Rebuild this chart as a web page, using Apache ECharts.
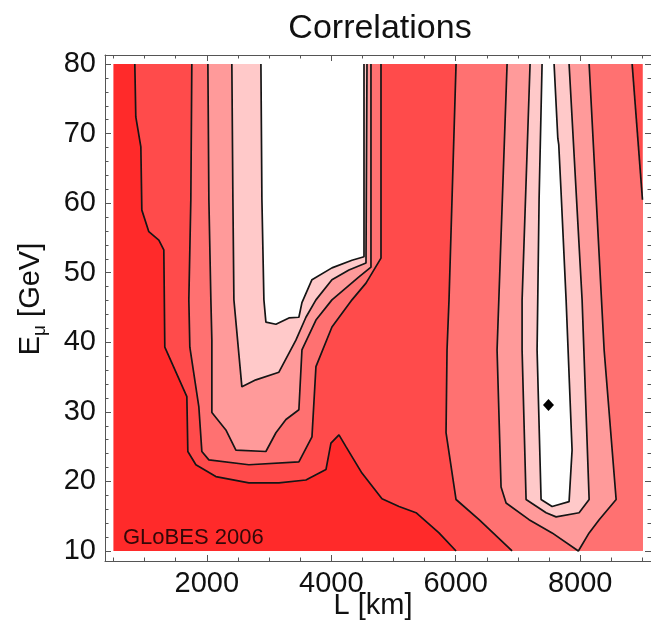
<!DOCTYPE html>
<html><head><meta charset="utf-8">
<script src="https://cdn.jsdelivr.net/npm/echarts@6/dist/echarts.min.js"></script>
<style>html,body{margin:0;padding:0;background:#fff}#c{width:651px;height:628px}</style>
</head><body><div id="c"></div>
<script>
// ---- tick values ----
const xMajor = [2000, 4000, 6000, 8000];
const xMinor = [500, 1000, 1500, 2500, 3000, 3500, 4500, 5000, 5500, 6500, 7000, 7500, 8500, 9000];
const yMajor = [10, 20, 30, 40, 50, 60, 70, 80];
const yMinor = [12,14,16,18,22,24,26,28,32,34,36,38,42,44,46,48,52,54,56,58,62,64,66,68,72,74,76,78];

// ---- plotted region (L [km], E [GeV]) ----
const plotBox = [[500, 10], [9000, 10], [9000, 80], [500, 80]];

// ---- contour lines: [L, E] ----
const lineAB = [[844,80],[860,72.4],[941,68.1],[957,59],[1069,55.9],[1230,54.7],[1310,53.3],[1326,39.3],[1680,32.2],[1696,24.3],[1825,22.4],[2146,20.7],[2677,19.8],[3159,19.8],[3593,20.2],[3915,21.7],[3995,25.5],[4124,26.7],[4236,25],[4493,21.2],[4815,17.5],[5089,16.4],[5362,15.5],[5731,12.6],[6005,10]];
const lineBCleft = [[1760,80],[1744,60.5],[1712,46.1],[1728,39.3],[1873,30.7],[1921,24.3],[2034,23.1],[2677,22.4],[3480,22.8],[3690,26.4],[3754,36.5],[4011,42.2],[4333,46.1],[4558,48.5],[4799,52.1],[4799,80]];
const lineBCright = [[6005,80],[5892,46.1],[5860,38.9],[5844,27.0],[6005,17.4],[6375,14.5],[6905,10]];
const lineBCfar = [[8834,80],[9000,60.5]];
const lineCDleft = [[2018,80],[2034,60.5],[2066,46.1],[2082,40.3],[2082,29.9],[2307,27.4],[2468,24.5],[2950,24.3],[3111,27.0],[3272,28.9],[3480,30.3],[3529,38.9],[3754,43.2],[4011,46.1],[4445,49.4],[4638,50.8],[4638,80]];
const lineCDright = [[6825,80],[6664,38.9],[6728,19.2],[6809,16.9],[7178,14.5],[7548,12.6],[7970,10],[8143,12.6],[8304,14.5],[8577,17.4],[8384,38.9],[8143,80]];
const lineDEleft = [[2403,80],[2420,60.5],[2436,46.1],[2564,33.6],[2789,34.6],[3159,35.7],[3432,40.3],[3593,43.6],[3754,46.1],[4011,49.0],[4284,50.4],[4558,51.4],[4574,80]];
const lineDEright = [[7194,80],[7066,46.1],[7066,38.9],[7130,17.4],[7452,15.5],[7612,14.9],[7982,15.5],[8143,17.4],[8030,46.1],[7821,80]];
const lineEWleft = [[2870,80],[2886,60.5],[2918,46.1],[2950,42.9],[3111,42.6],[3320,43.5],[3480,43.6],[3529,45.7],[3690,49.0],[4011,50.7],[4333,51.8],[4526,52.3],[4526,80]];
const lineEWright = [[7387,80],[7339,60.5],[7307,38.9],[7371,17.4],[7548,16.4],[7821,17.1],[7869,24.5],[7773,46.1],[7690,62],[7655,68.4],[7640,69.3],[7580,80]];
const bestFit = [[7490, 31]];

// ---- styles ----
const FONT = '"Liberation Sans", Arial, Helvetica, sans-serif';
const shade = ['#ff2a2a', '#ff4b4b', '#ff7171', '#ff9a9a', '#ffc9c9', '#ffffff'];

// fill regions, each drawn on top of the lower level
const fills = [
  { lv: 0, pts: plotBox },
  { lv: 1, pts: lineAB.concat([[9000, 10], [9000, 80]]) },
  { lv: 2, pts: lineBCleft },
  { lv: 2, pts: lineBCright.concat([[9000, 10]], lineBCfar.slice().reverse()) },
  { lv: 3, pts: lineCDleft },
  { lv: 3, pts: lineCDright },
  { lv: 4, pts: lineDEleft },
  { lv: 4, pts: lineDEright },
  { lv: 5, pts: lineEWleft },
  { lv: 5, pts: lineEWright }
];
const contourLines = [lineAB, lineBCleft, lineBCright, lineBCfar, lineCDleft, lineCDright, lineDEleft, lineDEright, lineEWleft, lineEWright];

const X_MIN = 365, X_MAX = 9137, Y_MIN = 8.56, Y_MAX = 81.3;
const frameColor = '#555';
const LABEL_SIZE = 29;

function xAx(pos, major) {
  return {
    type: 'value', min: X_MIN, max: X_MAX, position: pos,
    axisLine: { show: major, onZero: false, lineStyle: { color: frameColor, width: 1 } },
    axisTick: { show: true, inside: true, length: major ? 6 : 3.5, customValues: major ? xMajor : xMinor, lineStyle: { color: frameColor, width: 1 } },
    axisLabel: (major && pos === 'bottom') ? { show: true, customValues: xMajor, formatter: v => String(v), fontSize: LABEL_SIZE, color: '#111', fontFamily: FONT, margin: 8 } : { show: false },
    splitLine: { show: false }
  };
}
function yAx(pos, major) {
  return {
    type: 'value', min: Y_MIN, max: Y_MAX, position: pos,
    axisLine: { show: major, onZero: false, lineStyle: { color: frameColor, width: 1 } },
    axisTick: { show: true, inside: true, length: major ? 6 : 3.5, customValues: major ? yMajor : yMinor, lineStyle: { color: frameColor, width: 1 } },
    axisLabel: (major && pos === 'left') ? { show: true, customValues: yMajor, formatter: v => String(v), fontSize: LABEL_SIZE, color: '#111', fontFamily: FONT, margin: 9 } : { show: false },
    splitLine: { show: false }
  };
}

const chart = echarts.init(document.getElementById('c'), null, { renderer: 'canvas' });
const series = [{
  type: 'custom', coordinateSystem: 'cartesian2d', clip: true, silent: true, z: 1,
  data: fills.map(f => [f.pts[0][0], f.pts[0][1]]),
  renderItem: (params, api) => {
    const f = fills[params.dataIndex];
    return { type: 'polygon', shape: { points: f.pts.map(p => api.coord(p)) }, style: { fill: shade[f.lv], stroke: null } };
  }
}];
contourLines.forEach(pts => series.push({
  type: 'line', data: pts, symbol: 'none', showSymbol: false, clip: true, silent: true, z: 3,
  lineStyle: { color: '#151515', width: 1.7 }
}));
series.push({ type: 'scatter', data: bestFit, symbol: 'diamond', symbolSize: [11, 12], itemStyle: { color: '#000', opacity: 1 }, z: 5, silent: true });

chart.setOption({
  animation: false,
  backgroundColor: '#fff',
  grid: { left: 105, top: 55, right: 0, bottom: 67, containLabel: false, outerBoundsMode: 'none' },
  xAxis: [xAx('bottom', true), xAx('bottom', false), xAx('top', true), xAx('top', false)],
  yAxis: [yAx('left', true), yAx('left', false), yAx('right', true), yAx('right', false)],
  series: series,
  graphic: [
    { type: 'text', x: 380, y: 29, style: { text: 'Correlations', font: '34px ' + FONT, fill: '#111', align: 'center', verticalAlign: 'middle' } },
    { type: 'text', x: 373, y: 606, style: { text: 'L [km]', font: '29px ' + FONT, fill: '#111', align: 'center', verticalAlign: 'middle' } },
    { type: 'text', x: 31, y: 299, rotation: Math.PI / 2, style: {
        text: '{e|E}{m|μ}{e| [GeV]}', align: 'center', verticalAlign: 'middle', fill: '#111',
        rich: { e: { fontSize: 29, fontFamily: FONT, lineHeight: 36, fill: '#111', verticalAlign: 'middle' },
                m: { fontSize: 19, fontFamily: FONT, lineHeight: 36, fill: '#111', verticalAlign: 'bottom' } } } },
    { type: 'text', x: 123, y: 538, z: 10, style: { text: 'GLoBES 2006', font: '22px ' + FONT, fill: '#330808', align: 'left', verticalAlign: 'middle' } }
  ]
});
</script>
</body></html>
